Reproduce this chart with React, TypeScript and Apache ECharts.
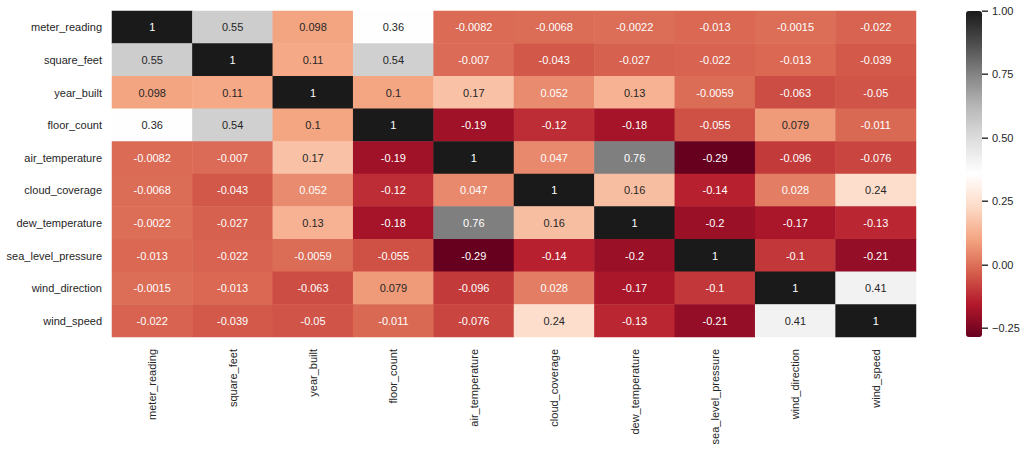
import React, { useEffect, useRef } from "react";
import * as echarts from "echarts";

const variables = [
  "meter_reading",
  "square_feet",
  "year_built",
  "floor_count",
  "air_temperature",
  "cloud_coverage",
  "dew_temperature",
  "sea_level_pressure",
  "wind_direction",
  "wind_speed",
];

const rowMeterReading = [1, 0.55, 0.098, 0.36, -0.0082, -0.0068, -0.0022, -0.013, -0.0015, -0.022];
const rowSquareFeet = [0.55, 1, 0.11, 0.54, -0.007, -0.043, -0.027, -0.022, -0.013, -0.039];
const rowYearBuilt = [0.098, 0.11, 1, 0.1, 0.17, 0.052, 0.13, -0.0059, -0.063, -0.05];
const rowFloorCount = [0.36, 0.54, 0.1, 1, -0.19, -0.12, -0.18, -0.055, 0.079, -0.011];
const rowAirTemperature = [-0.0082, -0.007, 0.17, -0.19, 1, 0.047, 0.76, -0.29, -0.096, -0.076];
const rowCloudCoverage = [-0.0068, -0.043, 0.052, -0.12, 0.047, 1, 0.16, -0.14, 0.028, 0.24];
const rowDewTemperature = [-0.0022, -0.027, 0.13, -0.18, 0.76, 0.16, 1, -0.2, -0.17, -0.13];
const rowSeaLevelPressure = [-0.013, -0.022, -0.0059, -0.055, -0.29, -0.14, -0.2, 1, -0.1, -0.21];
const rowWindDirection = [-0.0015, -0.013, -0.063, 0.079, -0.096, 0.028, -0.17, -0.1, 1, 0.41];
const rowWindSpeed = [-0.022, -0.039, -0.05, -0.011, -0.076, 0.24, -0.13, -0.21, 0.41, 1];

const matrix = [
  rowMeterReading,
  rowSquareFeet,
  rowYearBuilt,
  rowFloorCount,
  rowAirTemperature,
  rowCloudCoverage,
  rowDewTemperature,
  rowSeaLevelPressure,
  rowWindDirection,
  rowWindSpeed,
];

const colorbarTicks = [-0.25, 0, 0.25, 0.5, 0.75, 1];
const COLOR_MIN = -0.2855;
const COLOR_MAX = 1;

// RdGy reversed
const palette = [
  "#67001f", "#b2182b", "#d6604d", "#f4a582", "#fddbc7", "#ffffff",
  "#e0e0e0", "#bababa", "#878787", "#4d4d4d", "#1a1a1a",
];

const FONT = "Liberation Sans";
const DARK = "#262626";

function hexToRgb(h: string) {
  const n = parseInt(h.slice(1), 16);
  return [(n >> 16) & 255, (n >> 8) & 255, n & 255];
}

function colorAt(v: number) {
  let t = (v - COLOR_MIN) / (COLOR_MAX - COLOR_MIN);
  t = Math.max(0, Math.min(1, t));
  const pos = t * (palette.length - 1);
  const i = Math.min(palette.length - 2, Math.floor(pos));
  const f = pos - i;
  const a = hexToRgb(palette[i]);
  const b = hexToRgb(palette[i + 1]);
  return a.map((c, k) => c + (b[k] - c) * f);
}

function luminance(rgb: number[]) {
  const lin = rgb.map((c) => {
    const s = c / 255;
    return s <= 0.03928 ? s / 12.92 : Math.pow((s + 0.055) / 1.055, 2.4);
  });
  return 0.2126 * lin[0] + 0.7152 * lin[1] + 0.0722 * lin[2];
}

export default function App() {
  const ref = useRef<HTMLDivElement>(null);

  useEffect(() => {
    if (!ref.current) return;
    const chart = echarts.init(ref.current, null, { renderer: "svg" });

    const data: any[] = [];
    matrix.forEach((row, yi) => {
      row.forEach((v, xi) => {
        const lum = luminance(colorAt(v));
        data.push({
          value: [xi, yi, v],
          label: { color: lum > 0.408 ? DARK : "#ffffff" },
        });
      });
    });

    const tickMarks = colorbarTicks.map((t) => [1, t]);

    const option: any = {
      animation: false,
      backgroundColor: "#ffffff",
      textStyle: { fontFamily: FONT },
      grid: [
        { left: 112, right: 110, top: 11, bottom: 112 },
        { left: 966, width: 16, top: 11, bottom: 112 },
      ],
      xAxis: [
        {
          type: "category",
          gridIndex: 0,
          data: variables,
          axisLine: { show: false },
          axisTick: { show: false },
          splitLine: { show: false },
          axisLabel: {
            rotate: 90,
            margin: 12,
            fontSize: 11,
            color: DARK,
            fontFamily: FONT,
            interval: 0,
          },
        },
        {
          type: "value",
          gridIndex: 1,
          show: false,
          min: 0,
          max: 1,
        },
      ],
      yAxis: [
        {
          type: "category",
          gridIndex: 0,
          data: variables,
          inverse: true,
          axisLine: { show: false },
          axisTick: { show: false },
          splitLine: { show: false },
          axisLabel: {
            margin: 10,
            fontSize: 11,
            color: DARK,
            fontFamily: FONT,
            interval: 0,
          },
        },
        {
          type: "value",
          gridIndex: 1,
          position: "right",
          min: COLOR_MIN,
          max: COLOR_MAX,
          axisLine: { show: false },
          splitLine: { show: false },
          axisTick: { show: false },
          axisLabel: {
            customValues: colorbarTicks,
            margin: 10,
            fontSize: 11,
            color: DARK,
            fontFamily: FONT,
            formatter: (v: number) => v.toFixed(2).replace("-", "\u2212"),
          },
        },
      ],
      visualMap: {
        type: "continuous",
        seriesIndex: 0,
        min: COLOR_MIN,
        max: COLOR_MAX,
        calculable: false,
        hoverLink: false,
        orient: "vertical",
        left: 966,
        top: 11,
        itemWidth: 16,
        itemHeight: 326,
        padding: 0,
        text: null,
        showLabel: false,
        inRange: { color: palette },
      },
      series: [
        {
          type: "heatmap",
          xAxisIndex: 0,
          yAxisIndex: 0,
          data,
          label: {
            show: true,
            fontSize: 11,
            fontFamily: FONT,
            formatter: (p: any) => String(p.value[2]),
          },
          itemStyle: { borderWidth: 0 },
          emphasis: { disabled: true },
        },
        {
          type: "custom",
          xAxisIndex: 1,
          yAxisIndex: 1,
          data: tickMarks,
          clip: false,
          silent: true,
          z: 20,
          renderItem: (params: any, api: any) => {
            const p = api.coord([api.value(0), api.value(1)]);
            const y = Math.round(p[1]) - 0.5;
            return {
              type: "rect",
              shape: { x: Math.round(p[0]), y, width: 6, height: 1.4 },
              style: { fill: DARK },
            };
          },
        },
      ],
    };

    chart.setOption(option);
    return () => chart.dispose();
  }, []);

  return (
    <div
      ref={ref}
      style={{ position: "fixed", left: 0, top: 0, width: 1026, height: 449 }}
    />
  );
}
